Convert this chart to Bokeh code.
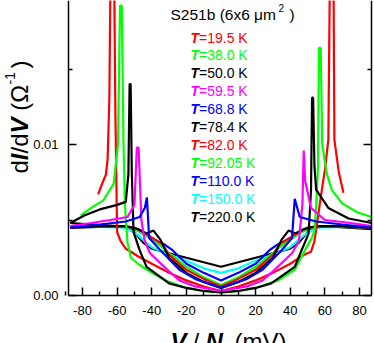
import math
from bokeh.plotting import figure
from bokeh.models import (Label, LinearAxis, Range1d, FixedTicker, PrintfTickFormatter,
                          CustomJSTickFormatter)
from bokeh.embed import file_html
from bokeh.resources import INLINE

# ---------------- data ----------------
temps = ["19.5", "38.0", "50.0", "59.5", "68.8", "78.4", "82.0", "92.05", "110.0", "150.0", "220.0"]
colors = ["#ff0000", "#00ff00", "#000000", "#ff00ff", "#0000ff", "#000000",
          "#ff0000", "#00ff00", "#0000ff", "#00ffff", "#000000"]

v_195 = [-71, -69, -66.5, -65.5, -64.5, -63.5, -62, -61, -60, -58, -55, -52, -48, -40, -30, -20, -10, 0,
         10, 20, 30, 40, 48, 52, 54, 56, 58, 60, 62, 63.2, 64.8, 65.5, 68, 70.7]
g_195 = [0.0067, 0.0073, 0.0080, 0.0090, 0.0130, 0.0250, 0.0250, 0.0120, 0.0042, 0.0036, 0.0031, 0.0029,
         0.0026, 0.0021, 0.0015, 0.0010, 0.0006, 0.0003, 0.0006, 0.0010, 0.0015, 0.0021, 0.0027, 0.0029,
         0.0036, 0.0052, 0.0068, 0.0083, 0.0103, 0.0250, 0.0250, 0.0103, 0.0082, 0.0068]

v_380 = [-81, -75, -68, -62, -59.5, -58.3, -57.3, -56.3, -55.5, -54, -52, -48, -40, -30, -20, -10, 0,
         10, 20, 33, 42.6, 48.5, 52.4, 54, 55, 56, 56.6, 57.6, 58.5, 61, 64, 70, 79, 87]
g_380 = [0.0053, 0.0058, 0.0063, 0.0074, 0.0100, 0.0192, 0.0192, 0.0100, 0.0060, 0.0035, 0.0025, 0.0021,
         0.0015, 0.0009, 0.0005, 0.0003, 0.0002, 0.0003, 0.0005, 0.0010, 0.0017, 0.0030, 0.0038, 0.0043,
         0.0060, 0.0085, 0.0164, 0.0164, 0.0100, 0.0081, 0.0070, 0.0061, 0.0055, 0.0052]

v_500 = [-87, -79, -70, -60, -55, -53.5, -52.8, -52.2, -51.5, -50.5, -47, -43, -30, -20, -10, 0,
         10, 20, 29, 42.6, 46.6, 50.6, 52, 52.6, 53.2, 54, 55, 62, 73.7, 87]
g_500 = [0.0048, 0.0053, 0.0057, 0.0060, 0.0062, 0.0080, 0.0140, 0.0140, 0.0080, 0.0042, 0.0030, 0.0019,
         0.0008, 0.0005, 0.0003, 0.0002, 0.0003, 0.0005, 0.0008, 0.0019, 0.0030, 0.0041, 0.0070, 0.0131,
         0.0131, 0.0085, 0.0070, 0.0058, 0.0051, 0.0048]

v_595 = [-87, -75, -64, -54, -50, -48.6, -47.6, -46, -44, -41, -30, -24, -15, 0,
         15, 24, 30, 41, 45, 47, 47.8, 48.6, 52, 60, 75, 87]
g_595 = [0.0046, 0.0048, 0.0050, 0.0052, 0.0060, 0.0098, 0.0098, 0.0050, 0.0036, 0.0028, 0.0016, 0.0010,
         0.0006, 0.0003, 0.0006, 0.0010, 0.0016, 0.0028, 0.0036, 0.0060, 0.0096, 0.0076, 0.0058, 0.0050,
         0.0048, 0.0046]

v_688 = [-87, -70, -55, -47, -44, -42.8, -41.5, -35, -24, -15, 0,
         15, 24, 35, 41, 42.6, 45.5, 55, 70, 87]
g_688 = [0.0045, 0.0047, 0.0049, 0.0052, 0.0058, 0.0065, 0.0038, 0.0030, 0.0017, 0.0011, 0.0005,
         0.0011, 0.0017, 0.0030, 0.0038, 0.0064, 0.0052, 0.0049, 0.0047, 0.0045]

v_784 = [-87, -70, -55, -48, -43, -39, -35, -30, -20, -10, 0, 10, 20, 30, 35, 39, 43, 48, 55, 70, 87]
g_784 = [0.0045, 0.0046, 0.0046, 0.0044, 0.0041, 0.0043, 0.0037, 0.0025, 0.0015, 0.0009, 0.0005,
         0.0009, 0.0015, 0.0025, 0.0037, 0.0043, 0.0041, 0.0044, 0.0046, 0.0046, 0.0045]

v_820 = [-87, -60, -50, -45, -38, -34, -30, -20, -10, 0, 10, 20, 30, 34, 38, 45, 50, 60, 87]
g_820 = [0.0045, 0.0046, 0.0045, 0.0042, 0.0037, 0.0034, 0.0027, 0.0017, 0.0011, 0.0006,
         0.0011, 0.0017, 0.0027, 0.0034, 0.0037, 0.0042, 0.0045, 0.0046, 0.0045]

v_9205 = [-87, -55, -48, -40, -35, -30, -20, -10, 0, 10, 20, 30, 35, 40, 48, 55, 87]
g_9205 = [0.0045, 0.0046, 0.0043, 0.0037, 0.0033, 0.0028, 0.0019, 0.0012, 0.0007,
          0.0012, 0.0019, 0.0028, 0.0033, 0.0037, 0.0043, 0.0046, 0.0045]

v_1100 = [-87, -55, -48, -40, -33, -28, -20, -10, 0, 10, 20, 28, 33, 40, 48, 55, 87]
g_1100 = [0.0045, 0.0046, 0.0043, 0.0038, 0.0034, 0.0030, 0.0021, 0.0015, 0.0010,
          0.0015, 0.0021, 0.0030, 0.0034, 0.0038, 0.0043, 0.0046, 0.0045]

v_1500 = [-87, -55, -48, -40, -30, -20, -10, 0, 10, 20, 30, 40, 48, 55, 87]
g_1500 = [0.0046, 0.0045, 0.0040, 0.0032, 0.0027, 0.0023, 0.0018, 0.0015,
          0.0018, 0.0023, 0.0027, 0.0032, 0.0040, 0.0045, 0.0046]

v_2200 = [-87, -60, -55, -50, -45, -40, -30, -20, -10, 0, 10, 20, 30, 40, 45, 50, 55, 60, 87]
g_2200 = [0.0048, 0.0046, 0.0045, 0.0042, 0.0035, 0.0031, 0.0028, 0.0025, 0.0022, 0.0019,
          0.0022, 0.0025, 0.0028, 0.0031, 0.0035, 0.0042, 0.0045, 0.0046, 0.0044]

series_v = [v_195, v_380, v_500, v_595, v_688, v_784, v_820, v_9205, v_1100, v_1500, v_2200]
series_g = [g_195, g_380, g_500, g_595, g_688, g_784, g_820, g_9205, g_1100, g_1500, g_2200]

x_ticks = [-80, -60, -40, -20, 0, 20, 40, 60, 80]
x_minor = [-90, -70, -50, -30, -10, 10, 30, 50, 70, 90]
y_ticks = [0.0, 0.01, 0.02]
y_minor = [0.005, 0.015]

sample_name = "S251b (6x6 μm"

# ---------------- geometry (canvas pixels) ----------------
W, H = 374, 343
AX_L, AX_R, AX_B = 68.0, 371.0, 295.0      # where the axes lines sit
ZERO_X, PX_PER_MV = 220.5, 1.73125
PX_PER_G = 15100.0

def xd(px):
    return (px - ZERO_X) / PX_PER_MV
def yd(py):
    return (AX_B - py) / PX_PER_G

FONT = "Liberation Sans"

p = figure(width=W, height=H, output_backend="svg", toolbar_location=None,
           x_range=Range1d(xd(0), xd(W)), y_range=Range1d(yd(H), yd(0)),
           min_border_left=0, min_border_right=0, min_border_top=0, min_border_bottom=0)
p.outline_line_color = None
p.xgrid.visible = False
p.ygrid.visible = False
p.background_fill_color = "white"
p.border_fill_color = "white"

def style_axis(ax):
    ax.axis_line_width = 1.5
    ax.axis_line_color = "black"
    ax.major_tick_in = 8
    ax.major_tick_out = 0
    ax.minor_tick_in = 4
    ax.minor_tick_out = 0
    ax.major_tick_line_width = 1.5
    ax.minor_tick_line_width = 1.5
    ax.major_label_text_font = FONT
    ax.major_label_text_font_size = "13px"
    ax.major_label_text_color = "black"

xa = p.xaxis[0]
xa.ticker = FixedTicker(ticks=x_ticks, minor_ticks=x_minor)
xa.formatter = PrintfTickFormatter(format="%d")
style_axis(xa)
xa.fixed_location = 0.0
xa.bounds = (xd(AX_L), xd(AX_R))
xa.major_label_standoff = 10

ya = p.yaxis[0]
ya.ticker = FixedTicker(ticks=y_ticks, minor_ticks=y_minor)
ya.formatter = PrintfTickFormatter(format="%.2f")
style_axis(ya)
ya.fixed_location = xd(AX_L)
ya.bounds = (0.0, yd(0))
ya.major_label_standoff = 10

ra = LinearAxis(ticker=FixedTicker(ticks=y_ticks, minor_ticks=y_minor),
                formatter=CustomJSTickFormatter(code="return ''"))
style_axis(ra)
ra.fixed_location = xd(AX_R)
ra.bounds = (0.0, yd(0))
p.add_layout(ra, "right")

# draw curves: high temperatures first
order = [10, 9, 8, 7, 6, 5, 0, 1, 2, 3, 4]
for i in order:
    p.line(series_v[i], series_g[i], line_color=colors[i], line_width=2.2)

# ---------------- text (positions in canvas pixels) ----------------
def lab(text, px, py, size, style="normal", color="black", angle=0.0):
    p.add_layout(Label(x=xd(px), y=yd(py), text=text, text_font=FONT,
                       text_font_size=f"{size}px", text_font_style=style,
                       text_color=color, angle=angle,
                       text_align="left", text_baseline="alphabetic"))

# sample title
lab(sample_name, 170, 13.5, 15.5)
lab("2", 278, 7.5, 10)
lab(")", 289, 13.5, 15.5)

# temperature list
for k, (t, c) in enumerate(zip(temps, colors)):
    base = 37 + 17.9 * k
    lab("T", 190, base, 14, "bold italic", c)
    lab("=" + t + " K", 198.5, base, 14, "normal", c)

# y axis label (rotated, reads bottom to top)
ang = math.pi / 2
bx = 19
pieces = [("d", "normal", 24, 13.3, 0), ("I", "bold italic", 24, 6.7, 0),
          ("/d", "normal", 24, 20.0, 0), ("V", "bold italic", 24, 22.7, 0),
          ("(Ω", "normal", 24, 26.4, 0), ("-1", "normal", 14, 16.0, -10),
          (")", "normal", 24, 8.0, 0)]
y = 173
for txt, st, sz, w, dx in pieces:
    lab(txt, bx + dx, y, sz, st, "black", ang)
    y -= w

# x axis label
lab("V", 170, 341, 24, "bold italic")
lab("/", 192, 341, 24)
lab("N", 205, 341, 24, "bold italic")
lab("(mV)", 234, 341, 24)

open("out.html", "w").write(file_html(p, INLINE))
